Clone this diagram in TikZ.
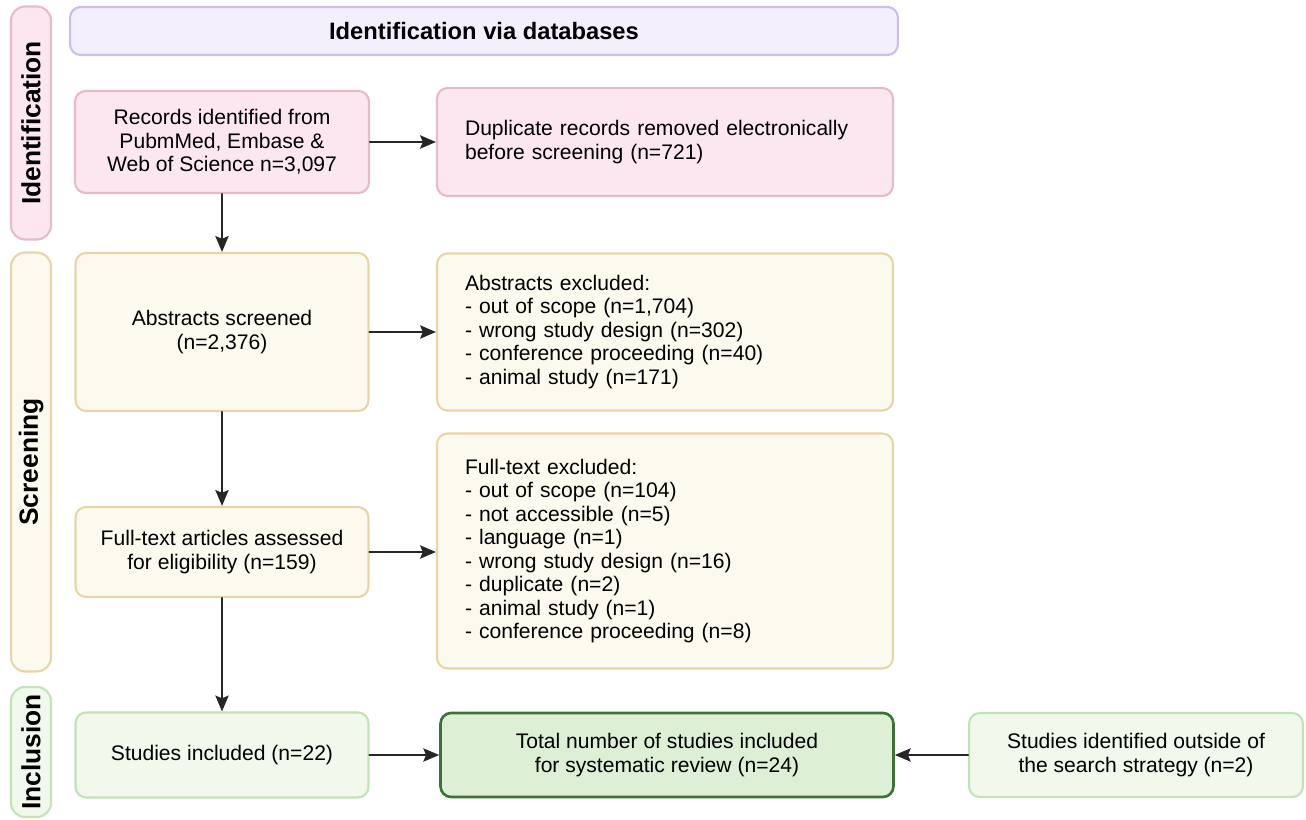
\documentclass[tikz,border=0pt]{standalone}
\usepackage{fontspec}
\setmainfont{Liberation Sans}
\usepackage{tikz}
\usetikzlibrary{arrows.meta}

\definecolor{pinkfill}{HTML}{FCE7F1}
\definecolor{pinkline}{HTML}{E6B9CD}
\definecolor{lilacfill}{HTML}{F3EFFC}
\definecolor{lilacline}{HTML}{CDBDEA}
\definecolor{creamfill}{HTML}{FCF9EE}
\definecolor{creamline}{HTML}{E5D6A6}
\definecolor{mintfill}{HTML}{F0F9EC}
\definecolor{mintline}{HTML}{C3E3B7}
\definecolor{totalfill}{HTML}{DDF0D6}
\definecolor{totalline}{HTML}{3B7336}

\begin{document}
\begin{tikzpicture}[
  x=0.02cm, y=-0.02cm,
  font=\fontsize{12}{13.4}\selectfont,
  line cap=round, line join=round,
  >={Stealth[length=9pt, width=7.5pt, inset=1.5pt]},
  box/.style={
    rectangle, rounded corners=6pt,
    align=center, inner sep=4pt,
    line width=1.2pt
  },
  pinkbox/.style={box, draw=pinkline, fill=pinkfill},
  creambox/.style={box, draw=creamline, fill=creamfill},
  mintbox/.style={box, draw=mintline, fill=mintfill},
  totalbox/.style={box, draw=totalline, fill=totalfill, line width=1.5pt},
  listbox/.style={align=left, inner xsep=0.56cm},
  phase/.style={
    rectangle, rounded corners=8pt, rotate=90,
    minimum height=0.8cm, line width=1.2pt,
    font=\fontsize{15}{18}\selectfont\bfseries
  },
  flow/.style={->, line width=1.3pt, draw=black!85}
]
\useasboundingbox (0,0) rectangle (1306,820);

% =========================================================================
% Fázy vľavo
% =========================================================================
\node[phase, draw=pinkline, fill=pinkfill, minimum width=4.66cm]  (phaseid)  at (31,123) {Identification};
\node[phase, draw=creamline, fill=creamfill, minimum width=8.38cm] (phasescr) at (31,462) {Screening};
\node[phase, draw=mintline, fill=mintfill, minimum width=2.6cm]   (phaseinc) at (31,752) {Inclusion};

% Hlavička
\node[box, draw=lilacline, fill=lilacfill, minimum width=16.56cm, minimum height=0.96cm,
      font=\fontsize{13.5}{16}\selectfont\bfseries] (header) at (484,31) {Identification via databases};

% =========================================================================
% Identifikácia
% =========================================================================
\node[pinkbox, minimum width=5.88cm, minimum height=2.04cm] (records) at (222,142) {%
  Records identified from\\
  PubmMed, Embase \&\\
  Web of Science n=3,097
};

\node[pinkbox, listbox, text width=8.0cm, minimum height=2.16cm] (duplicates) at (665,142) {%
  Duplicate records removed electronically\\
  before screening (n=721)
};

% =========================================================================
% Skríning
% =========================================================================
\node[creambox, minimum width=5.86cm, minimum height=3.16cm] (abstracts) at (222,332) {%
  Abstracts screened\\
  (n=2,376)
};

\node[creambox, listbox, text width=8.0cm, minimum height=3.14cm] (absexcl) at (665,332) {%
  Abstracts excluded:\\
  - out of scope (n=1,704)\\
  - wrong study design (n=302)\\
  - conference proceeding (n=40)\\
  - animal study (n=171)
};

\node[creambox, minimum width=5.86cm, minimum height=1.8cm] (fulltext) at (222,552) {%
  Full-text articles assessed\\
  for eligibility (n=159)
};

\node[creambox, listbox, text width=8.0cm, minimum height=4.7cm] (ftexcl) at (665,551) {%
  Full-text excluded:\\
  - out of scope (n=104)\\
  - not accessible (n=5)\\
  - language (n=1)\\
  - wrong study design (n=16)\\
  - duplicate (n=2)\\
  - animal study (n=1)\\
  - conference proceeding (n=8)\\[10pt]
};

% =========================================================================
% Zahrnutie
% =========================================================================
\node[mintbox, minimum width=5.86cm, minimum height=1.7cm] (included) at (222,755) {Studies included (n=22)};

\node[totalbox, minimum width=9.06cm, minimum height=1.68cm] (total) at (667,755) {%
  Total number of studies included\\
  for systematic review (n=24)
};

\node[mintbox, minimum width=6.68cm, minimum height=1.68cm] (outside) at (1136,755) {%
  Studies identified outside of\\
  the search strategy (n=2)
};

% =========================================================================
% Šípky
% =========================================================================
\draw[flow] (records) -- (duplicates);
\draw[flow] (records) -- (abstracts);
\draw[flow] (abstracts) -- (absexcl);
\draw[flow] (abstracts) -- (fulltext);
\draw[flow] (fulltext.east) -- (fulltext.east -| ftexcl.west);
\draw[flow] (fulltext) -- (included);
\draw[flow] (included) -- (total);
\draw[flow] (outside) -- (total);

\end{tikzpicture}
\end{document}
